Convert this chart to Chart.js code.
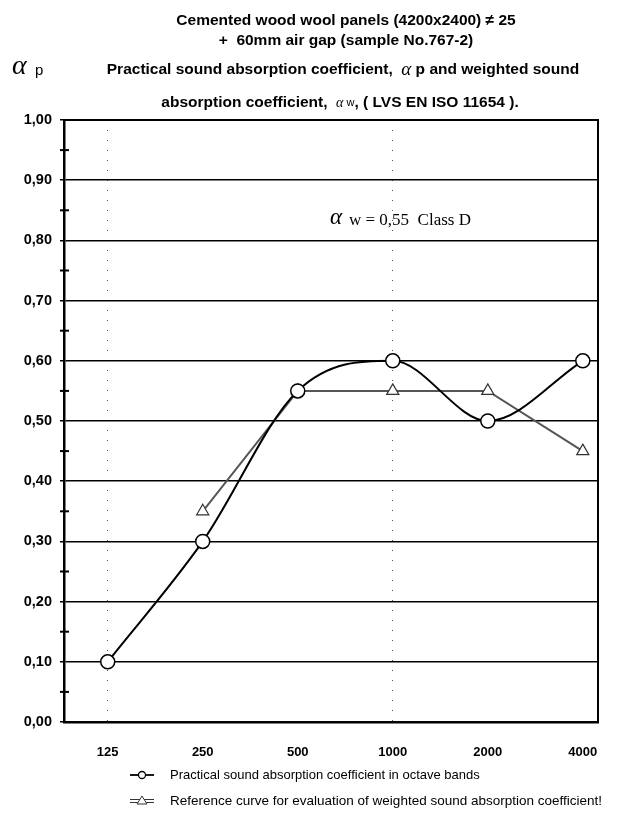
<!DOCTYPE html>
<html>
<head>
<meta charset="utf-8">
<script src="https://cdn.jsdelivr.net/npm/chart.js@4.4.1/dist/chart.umd.min.js"></script>
<style>
  html, body { margin: 0; padding: 0; background: #fff; }
  #wrap { width: 637px; height: 814px; }
</style>
</head>
<body>
<div id="wrap"><canvas id="absChart" width="637" height="814"></canvas></div>
<script>
// values
const freqLabels = ["125", "250", "500", "1000", "2000", "4000"];
const practical = [0.10, 0.30, 0.55, 0.60, 0.50, 0.60];
const reference = [null, 0.35, 0.55, 0.55, 0.55, 0.45];
const yTicks = [0, 0.1, 0.2, 0.3, 0.4, 0.5, 0.6, 0.7, 0.8, 0.9, 1.0];

const SANS = '"Liberation Sans", Arial, sans-serif';
const SERIF = '"Liberation Serif", "Times New Roman", serif';

// draw a line made of several font runs, centred on cx
function drawRuns(ctx, runs, cx, y) {
    let total = 0;
    runs.forEach(r => { ctx.font = r.font; total += ctx.measureText(r.text).width; });
    let x = cx - total / 2;
    ctx.textAlign = "left";
    runs.forEach(r => {
        ctx.font = r.font;
        ctx.fillText(r.text, x, y);
        x += ctx.measureText(r.text).width;
    });
}

const decorPlugin = {
    id: "decor",
    afterDraw(chart) {
        const ctx = chart.ctx;
        const area = chart.chartArea;
        const ys = chart.scales.y;
        ctx.save();
        ctx.fillStyle = "#000";
        ctx.strokeStyle = "#000";
        ctx.textBaseline = "middle";

        // titles
        const bt = "bold 15.5px " + SANS;
        drawRuns(ctx, [{ text: "Cemented wood wool panels (4200x2400) \u2260 25", font: bt }], 346, 21);
        drawRuns(ctx, [{ text: "+  60mm air gap (sample No.767-2)", font: bt }], 346, 41);
        drawRuns(ctx, [
            { text: "Practical sound absorption coefficient,  ", font: bt },
            { text: "\u03b1", font: "italic 19px " + SERIF },
            { text: " p and weighted sound", font: bt }
        ], 343, 70);
        drawRuns(ctx, [
            { text: "absorption coefficient,  ", font: bt },
            { text: "\u03b1", font: "italic 14px " + SERIF },
            { text: " w", font: "11px " + SANS },
            { text: ", ( LVS EN ISO 11654 ).", font: bt }
        ], 340, 103);

        // axis symbol
        ctx.textAlign = "left";
        ctx.font = "italic 28px " + SERIF;
        ctx.fillText("\u03b1", 12, 67);
        ctx.font = "15px " + SANS;
        ctx.fillText("p", 35, 71);

        // annotation
        const ay = ys.getPixelForValue(0.835);
        ctx.font = "italic 23px " + SERIF;
        ctx.fillText("\u03b1", 330, ay - 1);
        ctx.font = "17px " + SERIF;
        ctx.fillText("w = 0,55  Class D", 349, ay + 1);

        // top and right frame
        ctx.lineWidth = 2;
        ctx.beginPath();
        ctx.moveTo(area.left, area.top);
        ctx.lineTo(area.right, area.top);
        ctx.lineTo(area.right, area.bottom);
        ctx.stroke();

        // minor ticks crossing the y axis every 0.05
        for (let v = 0.05; v < 1; v += 0.1) {
            const py = ys.getPixelForValue(v);
            ctx.beginPath();
            ctx.moveTo(area.left - 4, py);
            ctx.lineTo(area.left + 5, py);
            ctx.stroke();
        }

        // legend
        const lx = 130;
        let ly = 775;
        ctx.lineWidth = 1.8;
        ctx.beginPath();
        ctx.moveTo(lx, ly); ctx.lineTo(lx + 24, ly);
        ctx.stroke();
        ctx.fillStyle = "#fff";
        ctx.lineWidth = 1.3;
        ctx.beginPath();
        ctx.arc(lx + 12, ly, 3.5, 0, Math.PI * 2);
        ctx.fill(); ctx.stroke();
        ctx.fillStyle = "#000";
        ctx.font = "13px " + SANS;
        ctx.fillText("Practical sound absorption coefficient in octave bands", lx + 40, ly);

        ly = 801;
        ctx.strokeStyle = "#333";
        ctx.lineWidth = 1;
        ctx.beginPath();
        ctx.moveTo(lx, ly - 1.5); ctx.lineTo(lx + 24, ly - 1.5);
        ctx.moveTo(lx, ly + 1.5); ctx.lineTo(lx + 24, ly + 1.5);
        ctx.stroke();
        ctx.fillStyle = "#fff";
        ctx.beginPath();
        ctx.moveTo(lx + 12, ly - 5); ctx.lineTo(lx + 17, ly + 3); ctx.lineTo(lx + 7, ly + 3);
        ctx.closePath();
        ctx.fill(); ctx.stroke();
        ctx.fillStyle = "#000";
        ctx.font = "13.5px " + SANS;
        ctx.fillText("Reference curve for evaluation of weighted sound absorption coefficient!", lx + 40, ly);

        ctx.restore();
    }
};

const ctx = document.getElementById("absChart").getContext("2d");
new Chart(ctx, {
    type: "line",
    data: {
        datasets: [
            {
                label: "Practical sound absorption coefficient in octave bands",
                data: practical.map((v, i) => ({ x: i, y: v })),
                borderColor: "#000",
                borderWidth: 2,
                cubicInterpolationMode: "monotone",
                pointRadius: 7,
                pointBackgroundColor: "#fff",
                pointBorderColor: "#000",
                pointBorderWidth: 1.5,
                order: 1
            },
            {
                label: "Reference curve for evaluation of weighted sound absorption coefficient",
                data: reference.map((v, i) => ({ x: i, y: v })).filter(p => p.y !== null),
                borderColor: "#555",
                borderWidth: 2,
                tension: 0,
                pointStyle: "triangle",
                pointRadius: 7,
                pointBackgroundColor: "#fff",
                pointBorderColor: "#333",
                pointBorderWidth: 1.2,
                order: 2
            }
        ]
    },
    options: {
        responsive: false,
        animation: false,
        layout: { padding: { top: 120, right: 39, bottom: 0, left: 0 } },
        plugins: {
            legend: { display: false },
            tooltip: { enabled: false }
        },
        scales: {
            x: {
                type: "linear",
                min: -0.46,
                max: 5.16,
                afterBuildTicks: (scale) => { scale.ticks = freqLabels.map((l, i) => ({ value: i })); },
                afterFit: (scale) => { scale.height = 92; },
                ticks: {
                    callback: (v) => freqLabels[v],
                    color: "#000",
                    font: { family: SANS, size: 13, weight: "bold" },
                    padding: 23,
                    maxRotation: 0
                },
                grid: {
                    drawTicks: false,
                    color: (c) => (c.index === 0 || c.index === 3) ? "#555" : "rgba(0,0,0,0)",
                    lineWidth: 1
                },
                border: { display: true, color: "#000", width: 2.5, dash: [1, 9] }
            },
            y: {
                min: 0,
                max: 1,
                afterBuildTicks: (scale) => { scale.ticks = yTicks.map(v => ({ value: v })); },
                afterFit: (scale) => { scale.width = 64; },
                ticks: {
                    callback: (v) => v.toFixed(2).replace(".", ","),
                    color: "#000",
                    font: { family: SANS, size: 14.5, weight: "bold" },
                    padding: 8
                },
                grid: {
                    color: "#000",
                    lineWidth: 1.5,
                    tickLength: 4
                },
                border: { display: true, color: "#000", width: 2.5 }
            }
        }
    },
    plugins: [decorPlugin]
});
</script>
</body>
</html>
